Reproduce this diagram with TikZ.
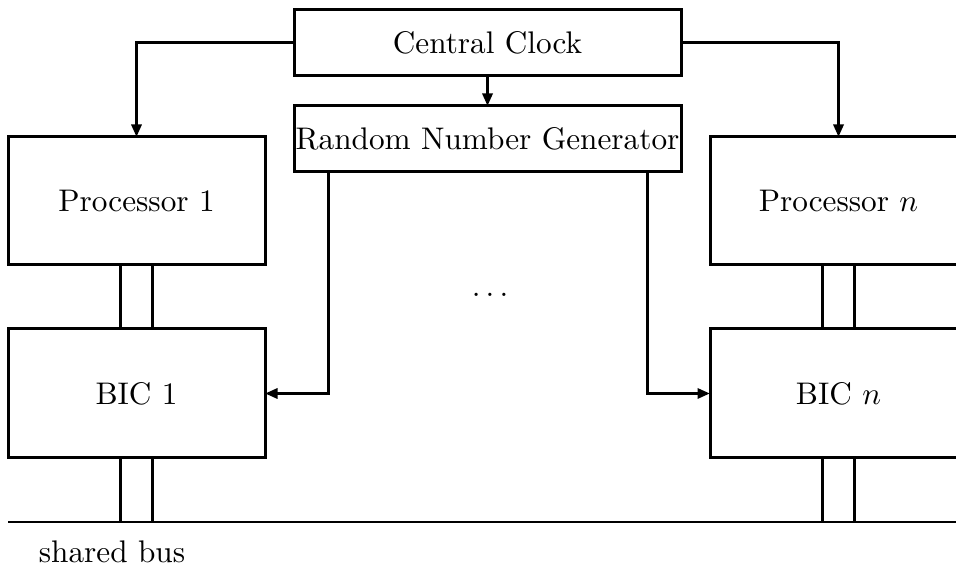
\documentclass[tikz,border=0pt]{standalone}
\usetikzlibrary{arrows.meta,calc}
\tikzset{
  box/.style={draw, line width=0.96pt, inner sep=0pt, outer sep=0pt, font=\fontsize{10}{12}\selectfont},
  wire/.style={line width=0.9pt},
  arr/.style={line width=0.96pt, -{Triangle[length=4pt,width=3.2pt]}},
  bus/.style={line width=0.8pt}
}
\begin{document}
\begin{tikzpicture}[x=0.32pt, y=-0.32pt]
\useasboundingbox (0,0) rectangle (956,585);
\clip (0,0) rectangle (956,585);
% boxes
\node[box, minimum width={387*0.32pt}, minimum height={66*0.32pt}] (clock) at (487.5,43) {Central Clock};
\node[box, minimum width={387*0.32pt}, minimum height={66*0.32pt}] (rng) at (487.5,139) {Random Number Generator};
\node[box, minimum width={257*0.32pt}, minimum height={128*0.32pt}] (p1) at (136.5,201) {Processor 1};
\node[box, minimum width={257*0.32pt}, minimum height={129*0.32pt}] (b1) at (136.5,393.5) {BIC 1};
\node[box, minimum width={257*0.32pt}, minimum height={128*0.32pt}] (pn) at (838.5,201) {Processor $n$};
\node[box, minimum width={257*0.32pt}, minimum height={129*0.32pt}] (bn) at (838.5,393.5) {BIC $n$};
\node (dots) at (490,295) {$\ldots$};
\node[font=\fontsize{10}{12}\selectfont] (buslabel) at (112,552) {shared bus};
% bus
\coordinate (busL) at (8,522);
\coordinate (busR) at (970,522);
\draw[bus] (busL) -- (busR);
% clock connections
\draw[arr] (clock.west) -| (p1.north);
\draw[arr] (clock.east) -| (pn.north);
\draw[arr] (clock.south) -- (rng.north);
% rng connections
\coordinate (r1) at (328,172);
\coordinate (r2) at (647,172);
\draw[arr] (r1) |- (b1.east);
\draw[arr] (r2) |- (bn.west);
% double lines
\path ($(p1.south)+(-16,0)$) coordinate (p1a) ($(p1.south)+(16,0)$) coordinate (p1b)
      ($(pn.south)+(-16,0)$) coordinate (pna) ($(pn.south)+(16,0)$) coordinate (pnb)
      ($(b1.south)+(-16,0)$) coordinate (b1a) ($(b1.south)+(16,0)$) coordinate (b1b)
      ($(bn.south)+(-16,0)$) coordinate (bna) ($(bn.south)+(16,0)$) coordinate (bnb);
\draw[wire] (p1a) -- (p1a |- b1.north);
\draw[wire] (p1b) -- (p1b |- b1.north);
\draw[wire] (pna) -- (pna |- bn.north);
\draw[wire] (pnb) -- (pnb |- bn.north);
\draw[wire] (b1a) -- (b1a |- busL);
\draw[wire] (b1b) -- (b1b |- busL);
\draw[wire] (bna) -- (bna |- busL);
\draw[wire] (bnb) -- (bnb |- busL);
\end{tikzpicture}
\end{document}
